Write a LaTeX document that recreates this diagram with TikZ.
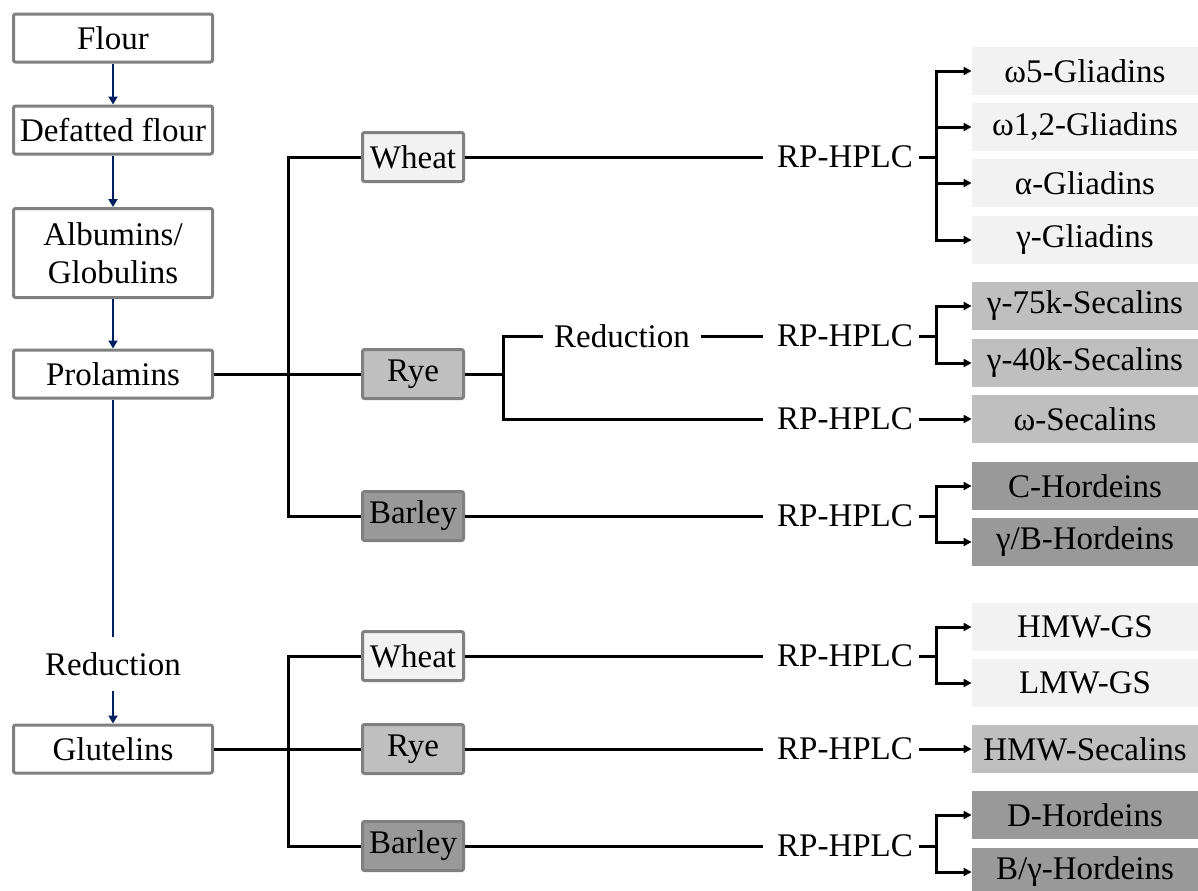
\documentclass[tikz,border=0pt]{standalone}
\usepackage{fontspec}
\setmainfont{Liberation Serif}
\usepackage{xcolor}
\usepackage{tikz}
\usetikzlibrary{arrows.meta,positioning}

\definecolor{navy}{RGB}{0,32,96}

\begin{document}
\begin{tikzpicture}[x=0.5pt,y=-0.5pt,
    every node/.style={font=\rmfamily\fontsize{16.5}{19}\selectfont},
    stepbox/.style={rectangle,draw=black!50,line width=1.5pt,fill=white,rounded corners=1pt,minimum width=99.5pt,minimum height=24pt,inner sep=2pt,align=center},
    grainbox/.style={rectangle,draw=black!50,line width=1.5pt,rounded corners=1pt,minimum width=50.5pt,minimum height=24.5pt,inner sep=2pt},
    fracbox/.style={rectangle,minimum width=113pt,minimum height=24pt,inner sep=2pt},
    method/.style={inner xsep=3pt,inner ysep=2pt},
    link/.style={line width=1.5pt,black},
    linkarrow/.style={link,-{Triangle[length=4pt,width=4pt]}},
    flowline/.style={line width=1.2pt,navy},
    flowarrow/.style={flowline,-{Triangle[length=4pt,width=4.5pt]}},
    wheatfill/.style={fill=black!5},
    ryefill/.style={fill=black!25},
    barleyfill/.style={fill=black!40},
]
\useasboundingbox (0,0) rectangle (1198,890);

\node[stepbox] (flour) at (113,38) {Flour};
\node[stepbox] (defat) at (113,130) {Defatted flour};
\node[stepbox,minimum height=44.5pt] (album) at (113,253) {Albumins/\\Globulins};
\node[stepbox] (prol) at (113,374) {Prolamins};
\node[inner sep=0pt,minimum height=26.5pt] (redL) at (113,664) {Reduction};
\node[stepbox] (glut) at (113,749) {Glutelins};

\draw[flowarrow] (flour.south) -- (defat.north);
\draw[flowarrow] (defat.south) -- (album.north);
\draw[flowarrow] (album.south) -- (prol.north);
\draw[flowline] (prol.south) -- (redL.north);
\draw[flowarrow] (redL.south) -- (glut.north);

\node[grainbox,wheatfill]  (wheat1)  at (413,157) {Wheat};
\node[grainbox,ryefill]    (rye1)    at (413,374) {Rye};
\node[grainbox,barleyfill] (barley1) at (413,516) {Barley};
\node[grainbox,wheatfill]  (wheat2)  at (413,656) {Wheat};
\node[grainbox,ryefill]    (rye2)    at (413,749) {Rye};
\node[grainbox,barleyfill] (barley2) at (413,846) {Barley};

\node[inner xsep=5.5pt,inner ysep=2pt] (red2) at (622,336) {Reduction};

\node[method] (hp1) at (845,157) {RP-HPLC};
\node[method] (hp2) at (845,336) {RP-HPLC};
\node[method] (hp3) at (845,419) {RP-HPLC};
\node[method] (hp4) at (845,516) {RP-HPLC};
\node[method] (hp5) at (845,656) {RP-HPLC};
\node[method] (hp6) at (845,749) {RP-HPLC};
\node[method] (hp7) at (845,846) {RP-HPLC};

\node[fracbox,wheatfill]  (g1) at (1085,71)  {ω5-Gliadins};
\node[fracbox,wheatfill]  (g2) at (1085,127) {ω1,2-Gliadins};
\node[fracbox,wheatfill]  (g3) at (1085,183) {α-Gliadins};
\node[fracbox,wheatfill]  (g4) at (1085,240) {γ-Gliadins};
\node[fracbox,ryefill]    (s1) at (1085,306) {γ-75k-Secalins};
\node[fracbox,ryefill]    (s2) at (1085,363) {γ-40k-Secalins};
\node[fracbox,ryefill]    (s3) at (1085,419) {ω-Secalins};
\node[fracbox,barleyfill] (h1) at (1085,486) {C-Hordeins};
\node[fracbox,barleyfill] (h2) at (1085,542) {γ/B-Hordeins};
\node[fracbox,wheatfill]  (gs1) at (1085,627) {HMW-GS};
\node[fracbox,wheatfill]  (gs2) at (1085,683) {LMW-GS};
\node[fracbox,ryefill]    (hs)  at (1085,749) {HMW-Secalins};
\node[fracbox,barleyfill] (d1) at (1085,815) {D-Hordeins};
\node[fracbox,barleyfill] (d2) at (1085,872) {B/γ-Hordeins};

\coordinate (pbus) at (288,374);
\draw[link] (prol.east) -- (rye1.west);
\draw[link] (wheat1.west) -| (pbus) |- (barley1.west);

\coordinate (rbus) at (503,374);
\draw[link] (rye1.east) -- (rbus);
\draw[link,shorten >=4pt] (red2.west) -| (rbus) |- (hp3.west);
\draw[link,shorten >=4pt] (red2.east) -- (hp2.west);
\draw[link,shorten >=4pt] (wheat1.east) -- (hp1.west);
\draw[link,shorten >=4pt] (barley1.east) -- (hp4.west);

\coordinate (gbus) at (288,749);
\draw[link] (glut.east) -- (rye2.west);
\draw[link] (wheat2.west) -| (gbus) |- (barley2.west);
\draw[link,shorten >=4pt] (wheat2.east) -- (hp5.west);
\draw[link,shorten >=4pt] (rye2.east) -- (hp6.west);
\draw[link,shorten >=4pt] (barley2.east) -- (hp7.west);

\draw[link] (hp1.east) -- ++(17,0) coordinate (j1);
\foreach \f in {g1,g2,g3,g4} \draw[linkarrow] (j1) |- (\f.west);
\draw[link] (hp2.east) -- ++(17,0) coordinate (j2);
\foreach \f in {s1,s2} \draw[linkarrow] (j2) |- (\f.west);
\draw[linkarrow] (hp3.east) -- (s3.west);
\draw[link] (hp4.east) -- ++(17,0) coordinate (j4);
\foreach \f in {h1,h2} \draw[linkarrow] (j4) |- (\f.west);
\draw[link] (hp5.east) -- ++(17,0) coordinate (j5);
\foreach \f in {gs1,gs2} \draw[linkarrow] (j5) |- (\f.west);
\draw[linkarrow] (hp6.east) -- (hs.west);
\draw[link] (hp7.east) -- ++(17,0) coordinate (j7);
\foreach \f in {d1,d2} \draw[linkarrow] (j7) |- (\f.west);
\end{tikzpicture}
\end{document}
